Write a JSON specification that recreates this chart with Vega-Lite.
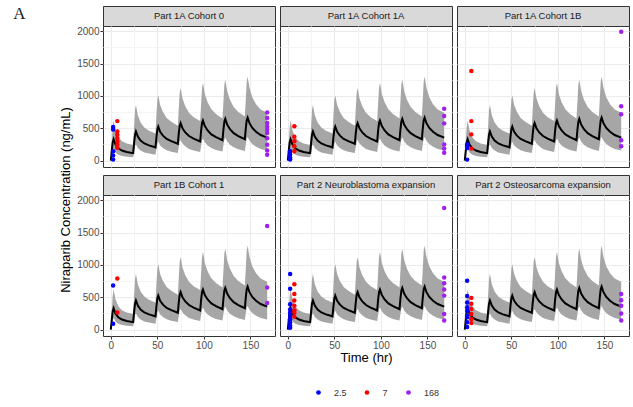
{
  "$schema": "https://vega.github.io/schema/vega-lite/v6.json",
  "background": "white",
  "padding": {"left": 13, "top": 4, "right": 2, "bottom": 5},
  "title": {"text": "A", "anchor": "start", "frame": "bounds", "orient": "top", "font": "Liberation Serif", "fontSize": 17, "fontWeight": "normal", "color": "#222222", "offset": -17, "dx": -47},
  "config": {
    "view": {"stroke": "#333333", "strokeWidth": 1},
    "axis": {"domain": false, "labelOverlap": false, "tickCount": 20, "labelFont": "Liberation Sans", "labelFontSize": 10, "labelColor": "#4D4D4D", "tickSize": 3, "tickWidth": 1, "labelPadding": 1, "titleFont": "Liberation Sans", "titleFontSize": 13, "titleFontWeight": "normal", "titleColor": "#000000", "gridWidth": 1},
    "legend": {"labelFont": "Liberation Sans"}
  },
  "datasets": {
    "curve": [
      {"time":0,"med":0,"lo":0,"hi":0},{"time":1,"med":150,"lo":70,"hi":280},{"time":2,"med":280,"lo":140,"hi":520},{"time":3,"med":330,"lo":180,"hi":620},{"time":5,"med":250,"lo":125,"hi":470},{"time":8,"med":190,"lo":90,"hi":360},{"time":12,"med":155,"lo":72,"hi":300},{"time":17,"med":132,"lo":60,"hi":265},{"time":24,"med":115,"lo":50,"hi":240},
      {"time":25,"med":270,"lo":130,"hi":520},{"time":26,"med":400,"lo":220,"hi":780},{"time":27,"med":450,"lo":250,"hi":860},{"time":29,"med":370,"lo":195,"hi":700},{"time":32,"med":310,"lo":155,"hi":590},{"time":36,"med":265,"lo":125,"hi":510},{"time":41,"med":235,"lo":108,"hi":460},{"time":48,"med":205,"lo":92,"hi":420},
      {"time":49,"med":360,"lo":180,"hi":700},{"time":50,"med":480,"lo":260,"hi":940},{"time":51,"med":525,"lo":290,"hi":1010},{"time":53,"med":445,"lo":235,"hi":860},{"time":56,"med":385,"lo":195,"hi":750},{"time":60,"med":335,"lo":160,"hi":660},{"time":65,"med":300,"lo":138,"hi":600},{"time":72,"med":260,"lo":116,"hi":540},
      {"time":73,"med":420,"lo":210,"hi":800},{"time":74,"med":540,"lo":290,"hi":1050},{"time":75,"med":580,"lo":320,"hi":1120},{"time":77,"med":500,"lo":265,"hi":960},{"time":80,"med":435,"lo":220,"hi":840},{"time":84,"med":380,"lo":180,"hi":740},{"time":89,"med":340,"lo":155,"hi":670},{"time":96,"med":295,"lo":132,"hi":610},
      {"time":97,"med":460,"lo":230,"hi":870},{"time":98,"med":580,"lo":310,"hi":1130},{"time":99,"med":620,"lo":340,"hi":1200},{"time":101,"med":535,"lo":285,"hi":1030},{"time":104,"med":465,"lo":235,"hi":900},{"time":108,"med":405,"lo":195,"hi":795},{"time":113,"med":362,"lo":165,"hi":720},{"time":120,"med":315,"lo":142,"hi":650},
      {"time":121,"med":480,"lo":240,"hi":910},{"time":122,"med":605,"lo":325,"hi":1180},{"time":123,"med":645,"lo":355,"hi":1250},{"time":125,"med":558,"lo":297,"hi":1075},{"time":128,"med":485,"lo":245,"hi":940},{"time":132,"med":423,"lo":205,"hi":830},{"time":137,"med":378,"lo":175,"hi":750},{"time":144,"med":330,"lo":148,"hi":680},
      {"time":145,"med":495,"lo":248,"hi":940},{"time":146,"med":625,"lo":335,"hi":1220},{"time":147,"med":665,"lo":365,"hi":1300},{"time":149,"med":578,"lo":308,"hi":1120},{"time":152,"med":505,"lo":255,"hi":980},{"time":156,"med":445,"lo":215,"hi":870},{"time":161,"med":395,"lo":180,"hi":790},{"time":168,"med":355,"lo":155,"hi":740}
    ],
    "obs": [
      {"panel":"Part 1A Cohort 0","time":2.5,"conc":520},{"panel":"Part 1A Cohort 0","time":2.5,"conc":480},{"panel":"Part 1A Cohort 0","time":2.5,"conc":145},{"panel":"Part 1A Cohort 0","time":2.5,"conc":80},{"panel":"Part 1A Cohort 0","time":2.5,"conc":15},
      {"panel":"Part 1A Cohort 0","time":7,"conc":610},{"panel":"Part 1A Cohort 0","time":7,"conc":450},{"panel":"Part 1A Cohort 0","time":7,"conc":400},{"panel":"Part 1A Cohort 0","time":7,"conc":350},{"panel":"Part 1A Cohort 0","time":7,"conc":300},{"panel":"Part 1A Cohort 0","time":7,"conc":250},{"panel":"Part 1A Cohort 0","time":7,"conc":200},
      {"panel":"Part 1A Cohort 0","time":168,"conc":745},{"panel":"Part 1A Cohort 0","time":168,"conc":660},{"panel":"Part 1A Cohort 0","time":168,"conc":580},{"panel":"Part 1A Cohort 0","time":168,"conc":525},{"panel":"Part 1A Cohort 0","time":168,"conc":475},{"panel":"Part 1A Cohort 0","time":168,"conc":425},{"panel":"Part 1A Cohort 0","time":168,"conc":345},{"panel":"Part 1A Cohort 0","time":168,"conc":245},{"panel":"Part 1A Cohort 0","time":168,"conc":155},{"panel":"Part 1A Cohort 0","time":168,"conc":90},
      {"panel":"Part 1A Cohort 1A","time":2.5,"conc":145},{"panel":"Part 1A Cohort 1A","time":2.5,"conc":95},{"panel":"Part 1A Cohort 1A","time":2.5,"conc":45},{"panel":"Part 1A Cohort 1A","time":2.5,"conc":15},
      {"panel":"Part 1A Cohort 1A","time":7,"conc":530},{"panel":"Part 1A Cohort 1A","time":7,"conc":370},{"panel":"Part 1A Cohort 1A","time":7,"conc":300},{"panel":"Part 1A Cohort 1A","time":7,"conc":220},{"panel":"Part 1A Cohort 1A","time":7,"conc":145},
      {"panel":"Part 1A Cohort 1A","time":168,"conc":800},{"panel":"Part 1A Cohort 1A","time":168,"conc":690},{"panel":"Part 1A Cohort 1A","time":168,"conc":575},{"panel":"Part 1A Cohort 1A","time":168,"conc":250},{"panel":"Part 1A Cohort 1A","time":168,"conc":185},{"panel":"Part 1A Cohort 1A","time":168,"conc":120},
      {"panel":"Part 1A Cohort 1B","time":2.5,"conc":250},{"panel":"Part 1A Cohort 1B","time":2.5,"conc":220},{"panel":"Part 1A Cohort 1B","time":2.5,"conc":195},{"panel":"Part 1A Cohort 1B","time":2.5,"conc":15},
      {"panel":"Part 1A Cohort 1B","time":7,"conc":1385},{"panel":"Part 1A Cohort 1B","time":7,"conc":610},{"panel":"Part 1A Cohort 1B","time":7,"conc":405},{"panel":"Part 1A Cohort 1B","time":7,"conc":185},
      {"panel":"Part 1A Cohort 1B","time":168,"conc":1990},{"panel":"Part 1A Cohort 1B","time":168,"conc":840},{"panel":"Part 1A Cohort 1B","time":168,"conc":715},{"panel":"Part 1A Cohort 1B","time":168,"conc":315},{"panel":"Part 1A Cohort 1B","time":168,"conc":220},
      {"panel":"Part 1B Cohort 1","time":2.5,"conc":680},{"panel":"Part 1B Cohort 1","time":2.5,"conc":90},
      {"panel":"Part 1B Cohort 1","time":7,"conc":790},{"panel":"Part 1B Cohort 1","time":7,"conc":265},
      {"panel":"Part 1B Cohort 1","time":168,"conc":1600},{"panel":"Part 1B Cohort 1","time":168,"conc":650},{"panel":"Part 1B Cohort 1","time":168,"conc":410},
      {"panel":"Part 2 Neuroblastoma expansion","time":2.5,"conc":860},{"panel":"Part 2 Neuroblastoma expansion","time":2.5,"conc":630},{"panel":"Part 2 Neuroblastoma expansion","time":2.5,"conc":390},{"panel":"Part 2 Neuroblastoma expansion","time":2.5,"conc":310},{"panel":"Part 2 Neuroblastoma expansion","time":2.5,"conc":260},{"panel":"Part 2 Neuroblastoma expansion","time":2.5,"conc":210},{"panel":"Part 2 Neuroblastoma expansion","time":2.5,"conc":160},{"panel":"Part 2 Neuroblastoma expansion","time":2.5,"conc":110},{"panel":"Part 2 Neuroblastoma expansion","time":2.5,"conc":60},{"panel":"Part 2 Neuroblastoma expansion","time":2.5,"conc":30},
      {"panel":"Part 2 Neuroblastoma expansion","time":7,"conc":700},{"panel":"Part 2 Neuroblastoma expansion","time":7,"conc":550},{"panel":"Part 2 Neuroblastoma expansion","time":7,"conc":450},{"panel":"Part 2 Neuroblastoma expansion","time":7,"conc":370},{"panel":"Part 2 Neuroblastoma expansion","time":7,"conc":300},{"panel":"Part 2 Neuroblastoma expansion","time":7,"conc":260},{"panel":"Part 2 Neuroblastoma expansion","time":7,"conc":200},
      {"panel":"Part 2 Neuroblastoma expansion","time":168,"conc":1880},{"panel":"Part 2 Neuroblastoma expansion","time":168,"conc":805},{"panel":"Part 2 Neuroblastoma expansion","time":168,"conc":715},{"panel":"Part 2 Neuroblastoma expansion","time":168,"conc":620},{"panel":"Part 2 Neuroblastoma expansion","time":168,"conc":525},{"panel":"Part 2 Neuroblastoma expansion","time":168,"conc":240},{"panel":"Part 2 Neuroblastoma expansion","time":168,"conc":140},
      {"panel":"Part 2 Osteosarcoma expansion","time":2.5,"conc":755},{"panel":"Part 2 Osteosarcoma expansion","time":2.5,"conc":520},{"panel":"Part 2 Osteosarcoma expansion","time":2.5,"conc":420},{"panel":"Part 2 Osteosarcoma expansion","time":2.5,"conc":345},{"panel":"Part 2 Osteosarcoma expansion","time":2.5,"conc":290},{"panel":"Part 2 Osteosarcoma expansion","time":2.5,"conc":215},{"panel":"Part 2 Osteosarcoma expansion","time":2.5,"conc":190},{"panel":"Part 2 Osteosarcoma expansion","time":2.5,"conc":115},{"panel":"Part 2 Osteosarcoma expansion","time":2.5,"conc":40},
      {"panel":"Part 2 Osteosarcoma expansion","time":7,"conc":490},{"panel":"Part 2 Osteosarcoma expansion","time":7,"conc":400},{"panel":"Part 2 Osteosarcoma expansion","time":7,"conc":320},{"panel":"Part 2 Osteosarcoma expansion","time":7,"conc":240},{"panel":"Part 2 Osteosarcoma expansion","time":7,"conc":165},{"panel":"Part 2 Osteosarcoma expansion","time":7,"conc":100},
      {"panel":"Part 2 Osteosarcoma expansion","time":168,"conc":550},{"panel":"Part 2 Osteosarcoma expansion","time":168,"conc":455},{"panel":"Part 2 Osteosarcoma expansion","time":168,"conc":370},{"panel":"Part 2 Osteosarcoma expansion","time":168,"conc":250},{"panel":"Part 2 Osteosarcoma expansion","time":168,"conc":140}
    ]
  },
  "spacing": 3,
  "hconcat": [
    {
      "title": {"text": "Niraparib Concentration (ng/mL)", "orient": "left", "anchor": "middle", "font": "Liberation Sans", "fontSize": 13, "fontWeight": "normal", "color": "#000000", "offset": 3, "dx": -22},
      "spacing": 6,
      "vconcat": [
        {"spacing": 0, "bounds": "flush", "vconcat": [
          {"width": 172, "height": 20, "view": {"fill": "#D9D9D9", "stroke": "#333333"}, "data": {"values": [{"label": "Part 1A Cohort 0"}]}, "mark": {"type": "text", "font": "Liberation Sans", "fontSize": 9.5, "color": "#1A1A1A"}, "encoding": {"text": {"field": "label"}}},
          {"width": 172, "height": 141, "layer": [
            {"data": {"name": "curve"}, "mark": {"type": "area", "color": "#A6A6A6", "opacity": 1}, "encoding": {
              "x": {"field": "time", "type": "quantitative", "scale": {"domain": [-8.4, 176.4], "nice": false, "zero": false}, "axis": {"values": [0,25,50,75,100,125,150], "labels": false, "ticks": false, "title": null, "gridColor": {"condition": {"test": "datum.value % 50 !== 0", "value": "#F4F4F4"}, "value": "#EBEBEB"}}},
              "y": {"field": "lo", "type": "quantitative", "scale": {"domain": [-99, 2080], "nice": false, "zero": false}, "axis": {"values": [0,250,500,750,1000,1250,1500,1750,2000], "format": "d", "labelExpr": "datum.value % 500 === 0 ? datum.label : ''", "tickColor": {"condition": {"test": "datum.value % 500 !== 0", "value": "transparent"}, "value": "#333333"}, "title": null, "gridColor": {"condition": {"test": "datum.value % 500 !== 0", "value": "#F4F4F4"}, "value": "#EBEBEB"}}},
              "y2": {"field": "hi"}}},
            {"data": {"name": "curve"}, "mark": {"type": "line", "color": "#000000", "strokeWidth": 2}, "encoding": {
              "x": {"field": "time", "type": "quantitative", "title": null},
              "y": {"field": "med", "type": "quantitative", "title": null}}},
            {"data": {"name": "obs"}, "transform": [{"filter": {"field": "panel", "equal": "Part 1A Cohort 0"}}], "mark": {"type": "circle", "size": 20, "opacity": 1}, "encoding": {
              "x": {"field": "time", "type": "quantitative", "title": null},
              "y": {"field": "conc", "type": "quantitative", "title": null},
              "color": {"field": "time", "type": "nominal", "scale": {"domain": [2.5, 7, 168], "range": ["#0000FF", "#FF0000", "#A020F0"]}, "legend": {"title": null, "orient": "none", "legendX": 211, "legendY": 382, "direction": "horizontal", "gridAlign": "none", "symbolType": "circle", "symbolSize": 22, "labelFontSize": 9, "labelColor": "#333333", "labelOffset": 11, "columnPadding": 15.5}}}}
          ]}
        ]},
        {"spacing": 0, "bounds": "flush", "vconcat": [
          {"width": 172, "height": 20, "view": {"fill": "#D9D9D9", "stroke": "#333333"}, "data": {"values": [{"label": "Part 1B Cohort 1"}]}, "mark": {"type": "text", "font": "Liberation Sans", "fontSize": 9.5, "color": "#1A1A1A"}, "encoding": {"text": {"field": "label"}}},
          {"width": 172, "height": 141, "layer": [
            {"data": {"name": "curve"}, "mark": {"type": "area", "color": "#A6A6A6", "opacity": 1}, "encoding": {
              "x": {"field": "time", "type": "quantitative", "scale": {"domain": [-8.4, 176.4], "nice": false, "zero": false}, "axis": {"values": [0,25,50,75,100,125,150], "format": "d", "labelExpr": "datum.value % 50 === 0 ? datum.label : ''", "tickColor": {"condition": {"test": "datum.value % 50 !== 0", "value": "transparent"}, "value": "#333333"}, "title": null, "gridColor": {"condition": {"test": "datum.value % 50 !== 0", "value": "#F4F4F4"}, "value": "#EBEBEB"}}},
              "y": {"field": "lo", "type": "quantitative", "scale": {"domain": [-99, 2080], "nice": false, "zero": false}, "axis": {"values": [0,250,500,750,1000,1250,1500,1750,2000], "format": "d", "labelExpr": "datum.value % 500 === 0 ? datum.label : ''", "tickColor": {"condition": {"test": "datum.value % 500 !== 0", "value": "transparent"}, "value": "#333333"}, "title": null, "gridColor": {"condition": {"test": "datum.value % 500 !== 0", "value": "#F4F4F4"}, "value": "#EBEBEB"}}},
              "y2": {"field": "hi"}}},
            {"data": {"name": "curve"}, "mark": {"type": "line", "color": "#000000", "strokeWidth": 2}, "encoding": {
              "x": {"field": "time", "type": "quantitative", "title": null},
              "y": {"field": "med", "type": "quantitative", "title": null}}},
            {"data": {"name": "obs"}, "transform": [{"filter": {"field": "panel", "equal": "Part 1B Cohort 1"}}], "mark": {"type": "circle", "size": 20, "opacity": 1}, "encoding": {
              "x": {"field": "time", "type": "quantitative", "title": null},
              "y": {"field": "conc", "type": "quantitative", "title": null},
              "color": {"field": "time", "type": "nominal", "scale": {"domain": [2.5, 7, 168], "range": ["#0000FF", "#FF0000", "#A020F0"]}, "legend": {"title": null, "orient": "none", "legendX": 211, "legendY": 382, "direction": "horizontal", "gridAlign": "none", "symbolType": "circle", "symbolSize": 22, "labelFontSize": 9, "labelColor": "#333333", "labelOffset": 11, "columnPadding": 15.5}}}}
          ]}
        ]}
      ]
    },
    {
      "spacing": 6,
      "vconcat": [
        {"spacing": 0, "bounds": "flush", "vconcat": [
          {"width": 172, "height": 20, "view": {"fill": "#D9D9D9", "stroke": "#333333"}, "data": {"values": [{"label": "Part 1A Cohort 1A"}]}, "mark": {"type": "text", "font": "Liberation Sans", "fontSize": 9.5, "color": "#1A1A1A"}, "encoding": {"text": {"field": "label"}}},
          {"width": 172, "height": 141, "layer": [
            {"data": {"name": "curve"}, "mark": {"type": "area", "color": "#A6A6A6", "opacity": 1}, "encoding": {
              "x": {"field": "time", "type": "quantitative", "scale": {"domain": [-8.4, 176.4], "nice": false, "zero": false}, "axis": {"values": [0,25,50,75,100,125,150], "labels": false, "ticks": false, "title": null, "gridColor": {"condition": {"test": "datum.value % 50 !== 0", "value": "#F4F4F4"}, "value": "#EBEBEB"}}},
              "y": {"field": "lo", "type": "quantitative", "scale": {"domain": [-99, 2080], "nice": false, "zero": false}, "axis": {"values": [0,250,500,750,1000,1250,1500,1750,2000], "labels": false, "ticks": false, "title": null, "gridColor": {"condition": {"test": "datum.value % 500 !== 0", "value": "#F4F4F4"}, "value": "#EBEBEB"}}},
              "y2": {"field": "hi"}}},
            {"data": {"name": "curve"}, "mark": {"type": "line", "color": "#000000", "strokeWidth": 2}, "encoding": {
              "x": {"field": "time", "type": "quantitative", "title": null},
              "y": {"field": "med", "type": "quantitative", "title": null}}},
            {"data": {"name": "obs"}, "transform": [{"filter": {"field": "panel", "equal": "Part 1A Cohort 1A"}}], "mark": {"type": "circle", "size": 20, "opacity": 1}, "encoding": {
              "x": {"field": "time", "type": "quantitative", "title": null},
              "y": {"field": "conc", "type": "quantitative", "title": null},
              "color": {"field": "time", "type": "nominal", "scale": {"domain": [2.5, 7, 168], "range": ["#0000FF", "#FF0000", "#A020F0"]}, "legend": {"title": null, "orient": "none", "legendX": 211, "legendY": 382, "direction": "horizontal", "gridAlign": "none", "symbolType": "circle", "symbolSize": 22, "labelFontSize": 9, "labelColor": "#333333", "labelOffset": 11, "columnPadding": 15.5}}}}
          ]}
        ]},
        {"spacing": 0, "bounds": "flush", "vconcat": [
          {"width": 172, "height": 20, "view": {"fill": "#D9D9D9", "stroke": "#333333"}, "data": {"values": [{"label": "Part 2 Neuroblastoma expansion"}]}, "mark": {"type": "text", "font": "Liberation Sans", "fontSize": 9.5, "color": "#1A1A1A"}, "encoding": {"text": {"field": "label"}}},
          {"width": 172, "height": 141, "layer": [
            {"data": {"name": "curve"}, "mark": {"type": "area", "color": "#A6A6A6", "opacity": 1}, "encoding": {
              "x": {"field": "time", "type": "quantitative", "scale": {"domain": [-8.4, 176.4], "nice": false, "zero": false}, "axis": {"values": [0,25,50,75,100,125,150], "format": "d", "labelExpr": "datum.value % 50 === 0 ? datum.label : ''", "tickColor": {"condition": {"test": "datum.value % 50 !== 0", "value": "transparent"}, "value": "#333333"}, "title": "Time (hr)", "titlePadding": 1, "gridColor": {"condition": {"test": "datum.value % 50 !== 0", "value": "#F4F4F4"}, "value": "#EBEBEB"}}},
              "y": {"field": "lo", "type": "quantitative", "scale": {"domain": [-99, 2080], "nice": false, "zero": false}, "axis": {"values": [0,250,500,750,1000,1250,1500,1750,2000], "labels": false, "ticks": false, "title": null, "gridColor": {"condition": {"test": "datum.value % 500 !== 0", "value": "#F4F4F4"}, "value": "#EBEBEB"}}},
              "y2": {"field": "hi"}}},
            {"data": {"name": "curve"}, "mark": {"type": "line", "color": "#000000", "strokeWidth": 2}, "encoding": {
              "x": {"field": "time", "type": "quantitative"},
              "y": {"field": "med", "type": "quantitative", "title": null}}},
            {"data": {"name": "obs"}, "transform": [{"filter": {"field": "panel", "equal": "Part 2 Neuroblastoma expansion"}}], "mark": {"type": "circle", "size": 20, "opacity": 1}, "encoding": {
              "x": {"field": "time", "type": "quantitative"},
              "y": {"field": "conc", "type": "quantitative", "title": null},
              "color": {"field": "time", "type": "nominal", "scale": {"domain": [2.5, 7, 168], "range": ["#0000FF", "#FF0000", "#A020F0"]}, "legend": {"title": null, "orient": "none", "legendX": 211, "legendY": 382, "direction": "horizontal", "gridAlign": "none", "symbolType": "circle", "symbolSize": 22, "labelFontSize": 9, "labelColor": "#333333", "labelOffset": 11, "columnPadding": 15.5}}}}
          ]}
        ]}
      ]
    },
    {
      "spacing": 6,
      "vconcat": [
        {"spacing": 0, "bounds": "flush", "vconcat": [
          {"width": 172, "height": 20, "view": {"fill": "#D9D9D9", "stroke": "#333333"}, "data": {"values": [{"label": "Part 1A Cohort 1B"}]}, "mark": {"type": "text", "font": "Liberation Sans", "fontSize": 9.5, "color": "#1A1A1A"}, "encoding": {"text": {"field": "label"}}},
          {"width": 172, "height": 141, "layer": [
            {"data": {"name": "curve"}, "mark": {"type": "area", "color": "#A6A6A6", "opacity": 1}, "encoding": {
              "x": {"field": "time", "type": "quantitative", "scale": {"domain": [-8.4, 176.4], "nice": false, "zero": false}, "axis": {"values": [0,25,50,75,100,125,150], "labels": false, "ticks": false, "title": null, "gridColor": {"condition": {"test": "datum.value % 50 !== 0", "value": "#F4F4F4"}, "value": "#EBEBEB"}}},
              "y": {"field": "lo", "type": "quantitative", "scale": {"domain": [-99, 2080], "nice": false, "zero": false}, "axis": {"values": [0,250,500,750,1000,1250,1500,1750,2000], "labels": false, "ticks": false, "title": null, "gridColor": {"condition": {"test": "datum.value % 500 !== 0", "value": "#F4F4F4"}, "value": "#EBEBEB"}}},
              "y2": {"field": "hi"}}},
            {"data": {"name": "curve"}, "mark": {"type": "line", "color": "#000000", "strokeWidth": 2}, "encoding": {
              "x": {"field": "time", "type": "quantitative", "title": null},
              "y": {"field": "med", "type": "quantitative", "title": null}}},
            {"data": {"name": "obs"}, "transform": [{"filter": {"field": "panel", "equal": "Part 1A Cohort 1B"}}], "mark": {"type": "circle", "size": 20, "opacity": 1}, "encoding": {
              "x": {"field": "time", "type": "quantitative", "title": null},
              "y": {"field": "conc", "type": "quantitative", "title": null},
              "color": {"field": "time", "type": "nominal", "scale": {"domain": [2.5, 7, 168], "range": ["#0000FF", "#FF0000", "#A020F0"]}, "legend": {"title": null, "orient": "none", "legendX": 211, "legendY": 382, "direction": "horizontal", "gridAlign": "none", "symbolType": "circle", "symbolSize": 22, "labelFontSize": 9, "labelColor": "#333333", "labelOffset": 11, "columnPadding": 15.5}}}}
          ]}
        ]},
        {"spacing": 0, "bounds": "flush", "vconcat": [
          {"width": 172, "height": 20, "view": {"fill": "#D9D9D9", "stroke": "#333333"}, "data": {"values": [{"label": "Part 2 Osteosarcoma expansion"}]}, "mark": {"type": "text", "font": "Liberation Sans", "fontSize": 9.5, "color": "#1A1A1A"}, "encoding": {"text": {"field": "label"}}},
          {"width": 172, "height": 141, "layer": [
            {"data": {"name": "curve"}, "mark": {"type": "area", "color": "#A6A6A6", "opacity": 1}, "encoding": {
              "x": {"field": "time", "type": "quantitative", "scale": {"domain": [-8.4, 176.4], "nice": false, "zero": false}, "axis": {"values": [0,25,50,75,100,125,150], "format": "d", "labelExpr": "datum.value % 50 === 0 ? datum.label : ''", "tickColor": {"condition": {"test": "datum.value % 50 !== 0", "value": "transparent"}, "value": "#333333"}, "title": null, "gridColor": {"condition": {"test": "datum.value % 50 !== 0", "value": "#F4F4F4"}, "value": "#EBEBEB"}}},
              "y": {"field": "lo", "type": "quantitative", "scale": {"domain": [-99, 2080], "nice": false, "zero": false}, "axis": {"values": [0,250,500,750,1000,1250,1500,1750,2000], "labels": false, "ticks": false, "title": null, "gridColor": {"condition": {"test": "datum.value % 500 !== 0", "value": "#F4F4F4"}, "value": "#EBEBEB"}}},
              "y2": {"field": "hi"}}},
            {"data": {"name": "curve"}, "mark": {"type": "line", "color": "#000000", "strokeWidth": 2}, "encoding": {
              "x": {"field": "time", "type": "quantitative", "title": null},
              "y": {"field": "med", "type": "quantitative", "title": null}}},
            {"data": {"name": "obs"}, "transform": [{"filter": {"field": "panel", "equal": "Part 2 Osteosarcoma expansion"}}], "mark": {"type": "circle", "size": 20, "opacity": 1}, "encoding": {
              "x": {"field": "time", "type": "quantitative", "title": null},
              "y": {"field": "conc", "type": "quantitative", "title": null},
              "color": {"field": "time", "type": "nominal", "scale": {"domain": [2.5, 7, 168], "range": ["#0000FF", "#FF0000", "#A020F0"]}, "legend": {"title": null, "orient": "none", "legendX": 211, "legendY": 382, "direction": "horizontal", "gridAlign": "none", "symbolType": "circle", "symbolSize": 22, "labelFontSize": 9, "labelColor": "#333333", "labelOffset": 11, "columnPadding": 15.5}}}}
          ]}
        ]}
      ]
    }
  ]
}
